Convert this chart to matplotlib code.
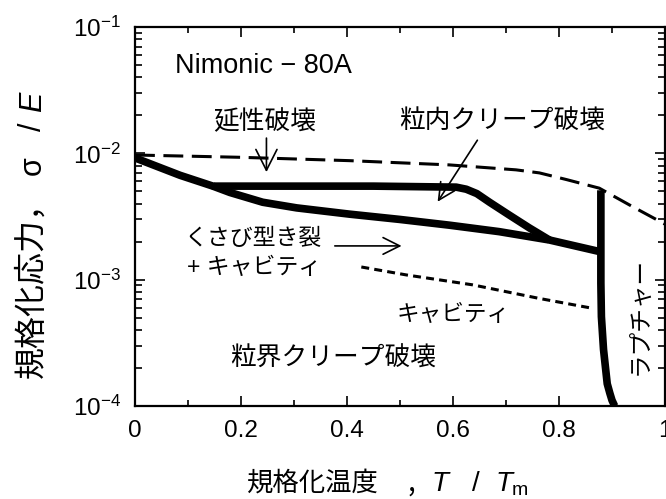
import matplotlib
matplotlib.use('Agg')
import matplotlib.pyplot as plt
from matplotlib.ticker import FixedLocator, FixedFormatter, MultipleLocator, LogLocator

plt.rcParams['font.family'] = ['Liberation Sans', 'Noto Sans CJK JP']
plt.rcParams['mathtext.fontset'] = 'custom'
plt.rcParams['mathtext.rm'] = 'Liberation Sans'
plt.rcParams['mathtext.it'] = 'Liberation Sans:italic'

# 延性破壊の境界（破線）
ductile_T = [0, 0.2, 0.405, 0.593, 0.719, 0.763, 0.814, 0.876, 0.938, 1.0]
ductile_s = [0.0097, 0.0093, 0.00875, 0.0081, 0.0074, 0.0070, 0.0062, 0.0053, 0.0038, 0.00275]

# 粒内クリープ破壊域の上側境界（太線）
upper_T = [0, 0.085, 0.147, 0.30, 0.45, 0.606, 0.625, 0.645, 0.669, 0.706, 0.744, 0.782]
upper_s = [0.0092, 0.0067, 0.0055, 0.0055, 0.0055, 0.0054, 0.0052, 0.0048, 0.0041, 0.00325, 0.00257, 0.00206]

# くさび型き裂との境界（太線）
lower_T = [0.147, 0.179, 0.241, 0.305, 0.405, 0.499, 0.593, 0.687, 0.782, 0.879]
lower_s = [0.0055, 0.0049, 0.0041, 0.0037, 0.0033, 0.0030, 0.0027, 0.0024, 0.00206, 0.00166]

# ラプチャー境界（太線）
rupture_T = [0.879, 0.879, 0.879, 0.880, 0.884, 0.891, 0.896, 0.900, 0.905]
rupture_s = [0.0051, 0.00166, 0.00094, 0.00051, 0.00028, 0.00015, 0.000126, 0.000111, 0.0001]

# キャビティ（点線）
cavity_T = [0.427, 0.512, 0.637, 0.763, 0.857]
cavity_s = [0.00126, 0.00109, 0.00091, 0.00071, 0.00060]

xtick_vals = [0, 0.2, 0.4, 0.6, 0.8, 1.0]
xtick_labels = ['0', '0.2', '0.4', '0.6', '0.8', '1']
ytick_vals = [1e-4, 1e-3, 1e-2, 1e-1]
ytick_labels = [r'$10^{-4}$', r'$10^{-3}$', r'$10^{-2}$', r'$10^{-1}$']

W, H = 666, 499
fig = plt.figure(figsize=(W / 100, H / 100), dpi=100)
ax = fig.add_axes([135 / W, 1 - 406 / H, 530 / W, 379 / H])


def fx(px):
    return px / W


def fy(py):
    return 1 - py / H


ax.set_yscale('log')
ax.set_xlim(0, 1)
ax.set_ylim(1e-4, 1e-1)

thick = dict(color='k', lw=5.5, solid_joinstyle='round', solid_capstyle='butt')
ax.plot(ductile_T, ductile_s, color='k', lw=2.2, linestyle=(0, (6.5, 2.8)))
ax.plot(upper_T, upper_s, **thick)
ax.plot(lower_T, lower_s, **thick)
ax.plot(rupture_T, rupture_s, **thick)
ax.plot(cavity_T, cavity_s, color='k', lw=2.2, linestyle=(0, (2.6, 1.7)))

# 注記
arrow = dict(arrowstyle='->,head_length=0.6,head_width=0.3', lw=1.2,
             color='k', shrinkA=0, shrinkB=0, mutation_scale=20)
ax.text(0.075, 0.049, 'Nimonic − 80A', fontsize=19.5, va='center', ha='left')
ax.text(0.245, 0.0177, '延性破壊', fontsize=18.5, va='center', ha='center')
ax.annotate('', xy=(0.248, 0.0071), xytext=(0.248, 0.0132),
            arrowprops=dict(arrow, arrowstyle='->,head_length=0.75,head_width=0.38'))
ax.text(0.693, 0.0177, '粒内クリープ破壊', fontsize=18.5, va='center', ha='center')
ax.annotate('', xy=(0.571, 0.00414), xytext=(0.646, 0.0127), arrowprops=arrow)
ax.text(0.094, 0.00213, 'くさび型き裂', fontsize=16.5, va='center', ha='left')
ax.text(0.098, 0.00126, '+ キャビティ', fontsize=16.5, va='center', ha='left')
ax.annotate('', xy=(0.503, 0.00185), xytext=(0.377, 0.00185), arrowprops=arrow)
ax.text(0.493, 0.000535, 'キャビティ', fontsize=16.3, va='center', ha='left')
ax.text(0.179, 0.000239, '粒界クリープ破壊', fontsize=18.5, va='center', ha='left')
ax.text(0.953, 0.000515, 'ラプチャー', fontsize=17, va='center', ha='center', rotation=90)

# 目盛り
ax.xaxis.set_major_locator(FixedLocator(xtick_vals))
ax.xaxis.set_major_formatter(FixedFormatter(xtick_labels))
ax.xaxis.set_minor_locator(MultipleLocator(0.1))
ax.yaxis.set_major_locator(FixedLocator(ytick_vals))
ax.yaxis.set_major_formatter(FixedFormatter(ytick_labels))
ax.yaxis.set_minor_locator(LogLocator(base=10, subs=range(2, 10)))
ax.tick_params(which='both', direction='in', top=True, right=True, width=1.2, labelsize=17.5)
ax.tick_params(which='major', length=7.5)
ax.tick_params(axis='x', which='minor', length=4)
ax.tick_params(axis='y', which='minor', length=5)
ax.tick_params(axis='x', pad=10)
ax.tick_params(axis='y', pad=10)
for sp in ax.spines.values():
    sp.set_linewidth(1.6)

# 軸ラベル
fig.text(fx(247), fy(491), '規格化温度', fontsize=19, ha='left', va='baseline')
fig.text(fx(407), fy(491), ',', fontsize=20, family='Noto Sans CJK JP', ha='left', va='baseline')
fig.text(fx(432), fy(491), 'T', fontsize=20, style='italic', ha='left', va='baseline')
fig.text(fx(472), fy(491), '/', fontsize=20, ha='left', va='baseline')
fig.text(fx(495), fy(491), r'$T_{\mathrm{m}}$', fontsize=20, ha='left', va='baseline')

fig.text(fx(32), fy(378), '規格化応力，', fontsize=23, rotation=90, ha='center', va='bottom')
fig.text(fx(33), fy(166), 'σ', fontsize=22, rotation=90, ha='center', va='center')
fig.text(fx(33), fy(127), '/', fontsize=22, rotation=90, ha='center', va='center')
fig.text(fx(33), fy(102), 'E', fontsize=22, rotation=90, style='italic', ha='center', va='center')

fig.savefig('out.png', dpi=100)
